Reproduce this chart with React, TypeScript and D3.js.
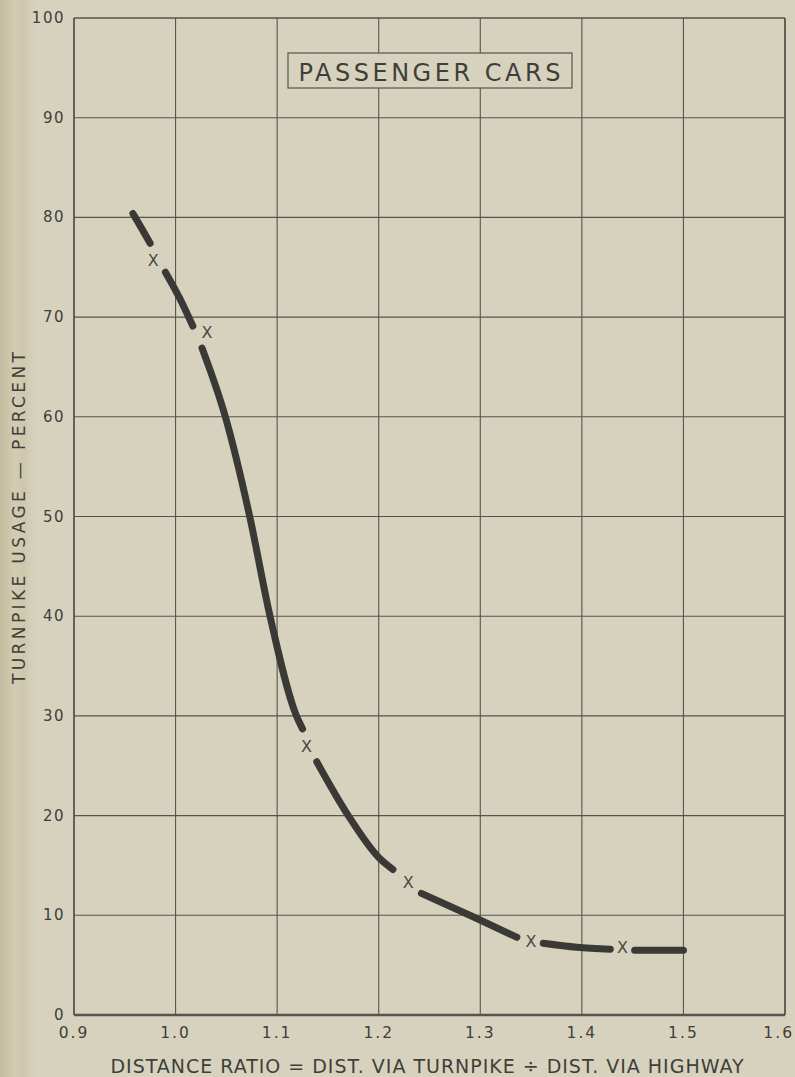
import React from "react";
import * as d3 from "d3";

const xTicks = [0.9, 1.0, 1.1, 1.2, 1.3, 1.4, 1.5, 1.6];
const xTickLabels = ["0.9", "1.0", "1.1", "1.2", "1.3", "1.4", "1.5", "1.6"];
const yTicks = [0, 10, 20, 30, 40, 50, 60, 70, 80, 90, 100];

// fitted curve, drawn as separate dashes between the observed points
const seg1: [number, number][] = [[0.958, 80.4], [0.966, 79.0], [0.975, 77.4]];
const seg2: [number, number][] = [[0.99, 74.5], [1.004, 71.9], [1.017, 69.1]];
const seg3: [number, number][] = [[1.026, 66.9], [1.049, 60], [1.073, 50], [1.093, 40], [1.119, 30], [1.125, 28.7]];
const seg4: [number, number][] = [[1.139, 25.4], [1.17, 20], [1.2, 15.8], [1.214, 14.6]];
const seg5: [number, number][] = [[1.242, 12.2], [1.294, 9.8], [1.336, 7.8]];
const seg6: [number, number][] = [[1.362, 7.2], [1.395, 6.8], [1.428, 6.6]];
const seg7: [number, number][] = [[1.452, 6.5], [1.5, 6.5]];
const curveSegments = [seg1, seg2, seg3, seg4, seg5, seg6, seg7];

// observed points (X marks)
const pointRatio = [0.978, 1.031, 1.129, 1.229, 1.35, 1.44];
const pointUsage = [75.7, 68.5, 26.9, 13.3, 7.4, 6.8];

const title = "PASSENGER CARS";
const xTitle = "DISTANCE RATIO = DIST. VIA TURNPIKE ÷ DIST. VIA HIGHWAY";
const yTitle = "TURNPIKE USAGE — PERCENT";

const W = 795;
const H = 1077;
const BG = "#d7d2be";
const GRID = "#56554d";
const INK = "#3f3e39";
const FONT = "'DejaVu Sans', sans-serif";

export default function App() {
  const x = d3.scaleLinear().domain([0.9, 1.6]).range([74, 785]);
  const y = d3.scaleLinear().domain([0, 100]).range([1015, 18]);
  const line = d3
    .line<[number, number]>()
    .x((d) => x(d[0]))
    .y((d) => y(d[1]))
    .curve(d3.curveMonotoneX);

  const cx = (x(0.9) + x(1.6)) / 2;

  return (
    <svg
      width={W}
      height={H}
      style={{ position: "absolute", left: 0, top: 0, display: "block" }}
    >
      <defs>
        <linearGradient id="edge" x1="0" x2="1" y1="0" y2="0">
          <stop offset="0" stopColor="#c2bb9f" />
          <stop offset="0.35" stopColor="#d2ccb2" />
          <stop offset="0.6" stopColor="#cdc7ac" />
          <stop offset="1" stopColor={BG} stopOpacity="0" />
        </linearGradient>
      </defs>
      <rect x={0} y={0} width={W} height={H} fill={BG} />
      <rect x={0} y={0} width={40} height={H} fill="url(#edge)" />

      {/* grid */}
      {xTicks.map((t) => (
        <line
          key={"vx" + t}
          x1={x(t)}
          x2={x(t)}
          y1={y(0)}
          y2={y(100)}
          stroke={GRID}
          strokeWidth={t === 0.9 || t === 1.6 ? 1.8 : 1.1}
        />
      ))}
      {yTicks.map((t) => (
        <line
          key={"hy" + t}
          x1={x(0.9)}
          x2={x(1.6)}
          y1={y(t)}
          y2={y(t)}
          stroke={GRID}
          strokeWidth={t === 0 ? 2.6 : t === 100 ? 1.6 : 1.1}
        />
      ))}

      {/* y tick labels */}
      {yTicks.map((t) => (
        <text
          key={"yl" + t}
          x={65}
          y={y(t)}
          textAnchor="end"
          dominantBaseline="central"
          fontFamily={FONT}
          fontSize={15}
          fill={INK}
          letterSpacing={1.5}
        >
          {t}
        </text>
      ))}

      {/* x tick labels */}
      {xTicks.map((t, i) => {
        const last = i === xTicks.length - 1;
        return (
          <text
            key={"xl" + t}
            x={last ? 794 : x(t)}
            y={1038}
            textAnchor={last ? "end" : "middle"}
            fontFamily={FONT}
            fontSize={15.5}
            fill={INK}
            letterSpacing={2}
          >
            {xTickLabels[i]}
          </text>
        );
      })}

      {/* title box */}
      <rect
        x={288}
        y={53}
        width={284}
        height={35}
        fill={BG}
        stroke={GRID}
        strokeWidth={1.2}
      />
      <text
        x={cx}
        y={81}
        textAnchor="middle"
        fontFamily={FONT}
        fontSize={24}
        fill={INK}
        textLength={262}
        lengthAdjust="spacing"
      >
        {title}
      </text>

      {/* curve */}
      {curveSegments.map((seg, i) => (
        <path
          key={"seg" + i}
          d={line(seg) || ""}
          fill="none"
          stroke="#3a3935"
          strokeWidth={7}
          strokeLinecap="round"
        />
      ))}

      {/* X marks */}
      {pointRatio.map((r, i) => (
        <text
          key={"pt" + i}
          x={x(r)}
          y={y(pointUsage[i])}
          textAnchor="middle"
          dominantBaseline="central"
          fontFamily={FONT}
          fontSize={16}
          fill="#4a4943"
        >
          X
        </text>
      ))}

      {/* axis titles */}
      <text
        x={427}
        y={1073}
        textAnchor="middle"
        fontFamily={FONT}
        fontSize={19}
        fill={INK}
        textLength={633}
        lengthAdjust="spacing"
      >
        {xTitle}
      </text>
      <text
        transform={`translate(25, 518) rotate(-90)`}
        x={0}
        y={0}
        textAnchor="middle"
        fontFamily={FONT}
        fontSize={17}
        fill={INK}
        textLength={332}
        lengthAdjust="spacing"
      >
        {yTitle}
      </text>
    </svg>
  );
}
